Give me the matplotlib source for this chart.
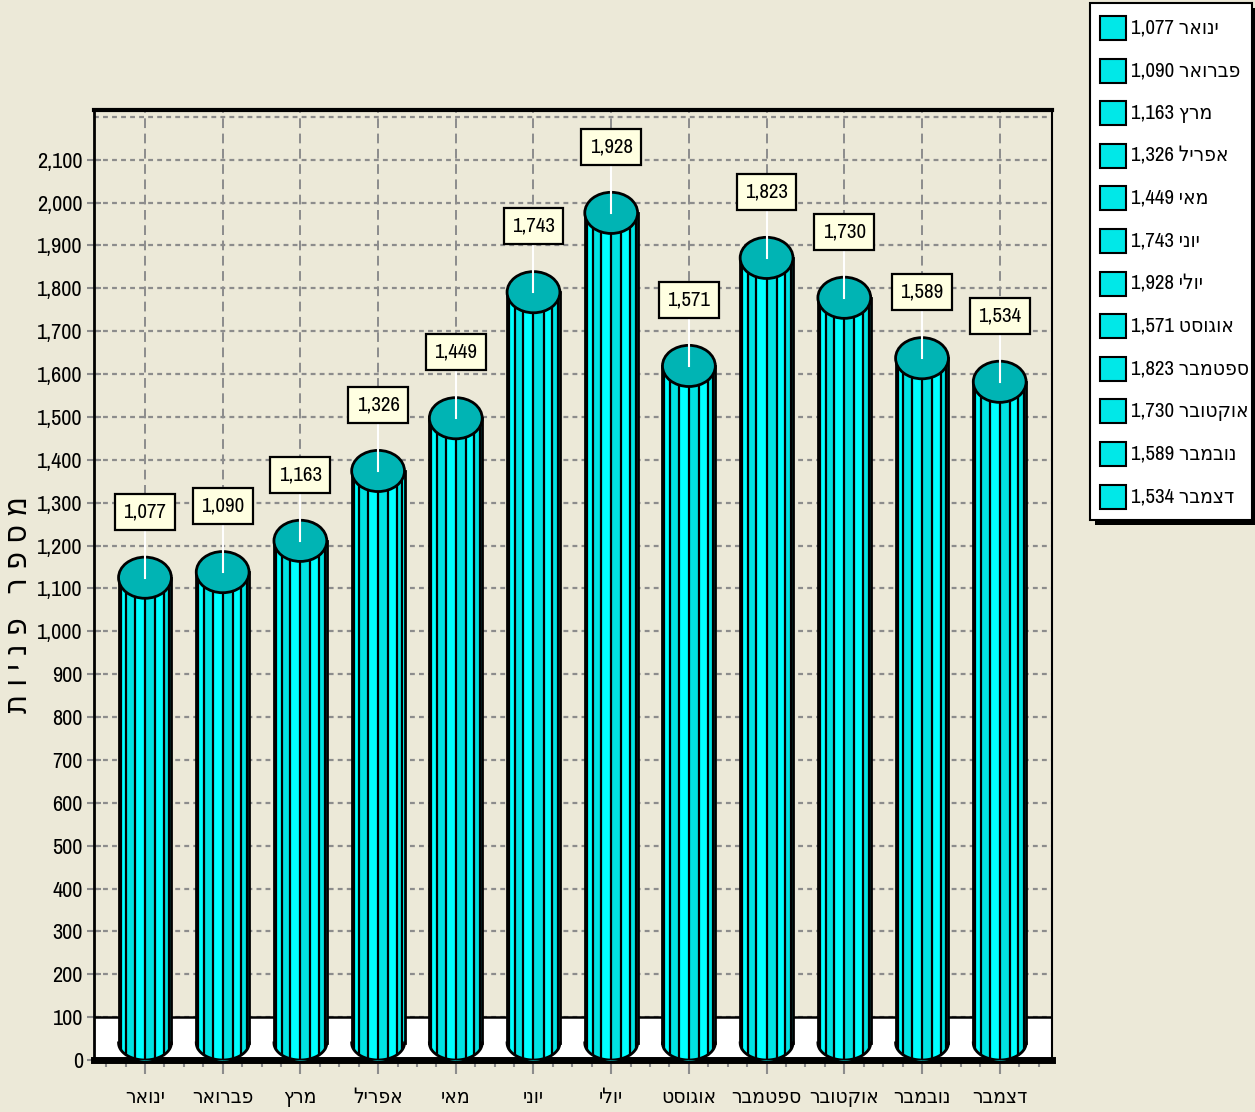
import numpy as np
import matplotlib
matplotlib.use("Agg")
import matplotlib.pyplot as plt
from matplotlib.patches import Ellipse, Rectangle
from matplotlib.ticker import MultipleLocator
from matplotlib.font_manager import FontProperties

months = ["ינואר", "פברואר", "מרץ", "אפריל", "מאי", "יוני",
          "יולי", "אוגוסט", "ספטמבר", "אוקטובר", "נובמבר", "דצמבר"]
values = [1077, 1090, 1163, 1326, 1449, 1743, 1928, 1571, 1823, 1730, 1589, 1534]
y_title = "מספר פניות"
y_ticks = list(range(0, 2101, 100))

plt.rcParams['lines.scale_dashes'] = False
FAM = ['Archivo Narrow', 'DejaVu Sans']
BG = '#ECE9D8'


def fp(size):
    return FontProperties(family=FAM, stretch='condensed', size=size)


def heb(s):
    # matplotlib draws left to right, so flip the hebrew words
    return s[::-1]


fig = plt.figure(figsize=(12.55, 11.12), dpi=100, facecolor=BG)
ax = fig.add_axes([94 / 1255, 52 / 1112, 958 / 1255, 950 / 1112])
ax.set_facecolor(BG)
ax.set_xlim(-0.656, 11.673)
ax.set_ylim(0, 2216)

# floor (0 - 100)
ax.add_patch(Rectangle((-0.656, 0), 12.33, 100, facecolor='white', edgecolor='none', zorder=1))
ax.axhline(100, color='black', lw=1.8, zorder=1.5)

# grid
ax.set_axisbelow(True)
ax.yaxis.grid(True, linestyle=(0, (3.5, 3)), color='#8c8c8c', lw=1.6)
ax.xaxis.grid(True, which='major', linestyle=(0, (7, 4)), color='#8c8c8c', lw=1.4)
ax.axhline(2200, color='#8c8c8c', lw=1.6, linestyle=(0, (3.5, 3)), zorder=0.5)

depth = 48      # half height of top ellipse
bdepth = 40     # half height of bottom curve
w = 0.68
r = w / 2
n_strip = 8
for i, v in enumerate(values):
    c = i
    top = v + depth
    edges = c - r * np.cos(np.linspace(0, np.pi, n_strip + 1))
    for k in range(n_strip):
        xs = np.linspace(edges[k], edges[k + 1], 30)
        u = np.clip((xs - c) / r, -1, 1)
        yb = bdepth - bdepth * np.sqrt(1 - u ** 2)
        col = '#00E3E3' if k % 2 == 0 else '#00FFFF'
        ax.fill_between(xs, yb, top, color=col, lw=0, zorder=3)
    for xe in edges[1:-1]:
        u = (xe - c) / r
        ax.plot([xe, xe], [bdepth - bdepth * np.sqrt(1 - u ** 2), top],
                color='black', lw=1.6, zorder=3.2)
    # outline
    t = np.linspace(np.pi, 2 * np.pi, 60)
    ax.plot(c + r * np.cos(t), bdepth + bdepth * np.sin(t), color='black', lw=2, zorder=3.3)
    ax.plot([c - r, c - r], [bdepth, top], color='black', lw=2, zorder=3.3)
    ax.plot([c + r, c + r], [bdepth, top], color='black', lw=2, zorder=3.3)
    ax.add_patch(Ellipse((c, top), w, 2 * depth, facecolor='#00B4B4',
                         edgecolor='black', lw=2, zorder=3.5))
    # value label
    ax.plot([c, c], [top, v + 170], color='white', lw=1.5, zorder=3.6)
    ax.text(c, v + 202, f"{v:,}", ha='center', va='center', fontproperties=fp(15), zorder=5,
            bbox=dict(boxstyle='square,pad=0.4', fc='#FFFFE1', ec='black', lw=1.6))

# axes
ax.set_xticks(range(len(months)))
ax.set_xticklabels([heb(m) for m in months], fontproperties=fp(15))
ax.xaxis.set_minor_locator(MultipleLocator(0.25))
ax.tick_params(axis='x', which='major', length=10, width=1.5, color='#8c8c8c', pad=10)
ax.tick_params(axis='x', which='minor', length=5, width=1.5, color='#8c8c8c')
ax.set_yticks(y_ticks)
ax.set_yticklabels([f"{t:,}" for t in y_ticks], fontproperties=fp(16))
ax.tick_params(axis='y', direction='inout', length=10, width=1.5, color='#8c8c8c', pad=3)

ax.spines['left'].set_linewidth(2)
ax.spines['top'].set_linewidth(3)
ax.spines['right'].set_linewidth(1.5)
ax.spines['bottom'].set_linewidth(5)

fig.text(18 / 1255, 1 - 605 / 1112, "\u2009\u2009".join(heb(y_title)), rotation=90,
         ha='center', va='center', fontproperties=fp(23))

# legend box with shadow
lx0, ly0, lx1, ly1 = 1090, 3, 1252, 520
fig.patches.append(Rectangle((lx0 / 1255 + 0.004, 1 - (ly1 + 5) / 1112), (lx1 - lx0) / 1255,
                             (ly1 - ly0) / 1112, transform=fig.transFigure,
                             facecolor='black', edgecolor='none', zorder=1))
fig.patches.append(Rectangle((lx0 / 1255, 1 - ly1 / 1112), (lx1 - lx0) / 1255,
                             (ly1 - ly0) / 1112, transform=fig.transFigure,
                             facecolor='white', edgecolor='black', lw=1.5, zorder=2))
row0, step = 28, 42.6
for i, (m, v) in enumerate(zip(months, values)):
    yc = row0 + i * step
    fig.patches.append(Rectangle((1100 / 1255, 1 - (yc + 12) / 1112), 26 / 1255, 24 / 1112,
                                 transform=fig.transFigure, facecolor='#00E8E8',
                                 edgecolor='black', lw=1.5, zorder=3))
    fig.text(1131 / 1255, 1 - yc / 1112, f"{v:,} {heb(m)}", ha='left', va='center',
             fontproperties=fp(15), zorder=4)

fig.savefig("out.png", dpi=100, facecolor=BG)
